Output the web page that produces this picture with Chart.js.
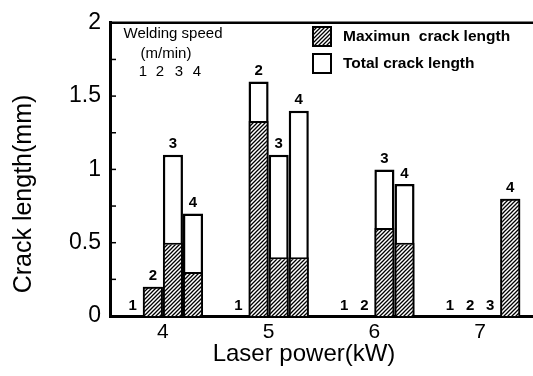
<!DOCTYPE html>
<html>
<head>
<meta charset="utf-8">
<script src="https://cdn.jsdelivr.net/npm/chart.js@4.4.0/dist/chart.umd.min.js"></script>
<style>
  html, body { margin: 0; padding: 0; background: #fff; }
  #wrap { width: 533px; height: 376px; }
</style>
</head>
<body>
<div id="wrap"><canvas id="crackChart"></canvas></div>
<script>
// Laser power (kW) categories
const laserPower = ["4", "5", "6", "7"];
// Welding speed (m/min)
const speeds = ["1", "2", "3", "4"];

// Maximum crack length (mm) per welding speed, by laser power
const maxSpeed1 = [0, 0, 0, 0];
const maxSpeed2 = [0.2, 1.33, 0, 0];
const maxSpeed3 = [0.5, 0.4, 0.6, 0];
const maxSpeed4 = [0.3, 0.4, 0.5, 0.8];

// Total crack length (mm) per welding speed, by laser power
const totalSpeed1 = [0, 0, 0, 0];
const totalSpeed2 = [0.2, 1.6, 0, 0];
const totalSpeed3 = [1.1, 1.1, 1.0, 0];
const totalSpeed4 = [0.7, 1.4, 0.9, 0.8];

const yTicks = [0, 0.5, 1, 1.5, 2];

const maxCrack = [maxSpeed1, maxSpeed2, maxSpeed3, maxSpeed4];
const totalCrack = [totalSpeed1, totalSpeed2, totalSpeed3, totalSpeed4];

const FONT = "'Liberation Sans', Arial, Helvetica, sans-serif";
Chart.defaults.font.family = FONT;
Chart.defaults.color = "#000";

// diagonal hatch for the maximum crack length
const makeHatch = () => {
  const c = document.createElement("canvas");
  c.width = 4;
  c.height = 4;
  const g = c.getContext("2d");
  g.fillStyle = "#fff";
  g.fillRect(0, 0, 4, 4);
  g.strokeStyle = "#000";
  g.lineWidth = 1.3;
  g.beginPath();
  g.moveTo(0, 4); g.lineTo(4, 0);
  g.moveTo(-1, 1); g.lineTo(1, -1);
  g.moveTo(3, 5); g.lineTo(5, 3);
  g.stroke();
  return g.createPattern(c, "repeat");
};
const hatch = makeHatch();

const datasets = [];
speeds.forEach((s, i) => {
  datasets.push({
    label: "Maximun crack length",
    data: maxCrack[i],
    stack: "speed" + s,
    backgroundColor: hatch,
    borderColor: "#000",
    borderWidth: 2,
    order: 0,
  });
});
speeds.forEach((s, i) => {
  datasets.push({
    label: "Total crack length",
    data: totalCrack[i],
    stack: "speed" + s,
    backgroundColor: "#fff",
    borderColor: "#000",
    borderWidth: 2.5,
    order: 1,
  });
});

// labels, legend, frame and titles
const decorations = {
  id: "decorations",
  afterDatasetsDraw(chart) {
    const { ctx, chartArea, scales } = chart;
    ctx.save();
    ctx.fillStyle = "#000";
    ctx.strokeStyle = "#000";

    // top frame line
    ctx.lineWidth = 2.5;
    ctx.beginPath();
    ctx.moveTo(chartArea.left, chartArea.top);
    ctx.lineTo(chartArea.right, chartArea.top);
    ctx.stroke();

    // small inner ticks on the y axis
    ctx.lineWidth = 1.5;
    for (let v = 0.25; v < 2; v += 0.25) {
      const y = scales.y.getPixelForValue(v);
      ctx.beginPath();
      ctx.moveTo(chartArea.left, y);
      ctx.lineTo(chartArea.left + 6, y);
      ctx.stroke();
    }

    // speed number above each bar
    ctx.font = "bold 15px " + FONT;
    ctx.textAlign = "center";
    ctx.textBaseline = "bottom";
    speeds.forEach((s, i) => {
      const meta = chart.getDatasetMeta(speeds.length + i);
      meta.data.forEach((bar) => {
        ctx.fillText(s, bar.x, bar.y - 3);
      });
    });

    // welding speed note
    ctx.font = "15px " + FONT;
    ctx.textBaseline = "middle";
    ctx.fillText("Welding speed", 173, 34);
    ctx.fillText("(m/min)", 166, 54);
    [143, 160, 179, 197].forEach((x, i) => ctx.fillText(speeds[i], x, 72));

    // legend
    ctx.lineWidth = 2;
    ctx.fillStyle = hatch;
    ctx.fillRect(313, 27, 18, 19);
    ctx.strokeRect(313, 27, 18, 19);
    ctx.fillStyle = "#fff";
    ctx.fillRect(313, 54, 18, 19);
    ctx.strokeRect(313, 54, 18, 19);
    ctx.fillStyle = "#000";
    ctx.font = "bold 15.5px " + FONT;
    ctx.textAlign = "left";
    ctx.fillText("Maximun  crack length", 343, 37);
    ctx.fillText("Total crack length", 343, 64);

    // axis titles
    ctx.font = "24px " + FONT;
    ctx.textAlign = "center";
    ctx.fillText("Laser power(kW)", 304, 354);
    ctx.translate(24, 194);
    ctx.rotate(-Math.PI / 2);
    ctx.font = "25px " + FONT;
    ctx.fillText("Crack length(mm)", 0, 0);
    ctx.restore();
  },
};

new Chart(document.getElementById("crackChart"), {
  type: "bar",
  data: { labels: laserPower, datasets },
  plugins: [decorations],
  options: {
    responsive: true,
    maintainAspectRatio: false,
    animation: false,
    categoryPercentage: 0.76,
    barPercentage: 1.0,
    layout: { padding: { top: 16, right: 0, left: 0, bottom: 0 } },
    plugins: {
      legend: { display: false },
      tooltip: { enabled: false },
    },
    scales: {
      x: {
        grid: { display: false, drawTicks: false },
        border: { display: true, color: "#000", width: 3 },
        ticks: { font: { size: 21 }, padding: 4, color: "#000" },
        afterFit: (scale) => { scale.height = 60; },
      },
      y: {
        stacked: false,
        min: 0,
        max: 2,
        grid: { display: false, drawTicks: false },
        border: { display: true, color: "#000", width: 3 },
        ticks: {
          font: { size: 23 },
          padding: 9,
          color: "#000",
          callback: (v) => String(v),
        },
        afterBuildTicks: (scale) => { scale.ticks = yTicks.map((v) => ({ value: v })); },
        afterFit: (scale) => { scale.width = 110; },
      },
    },
  },
});
</script>
</body>
</html>
